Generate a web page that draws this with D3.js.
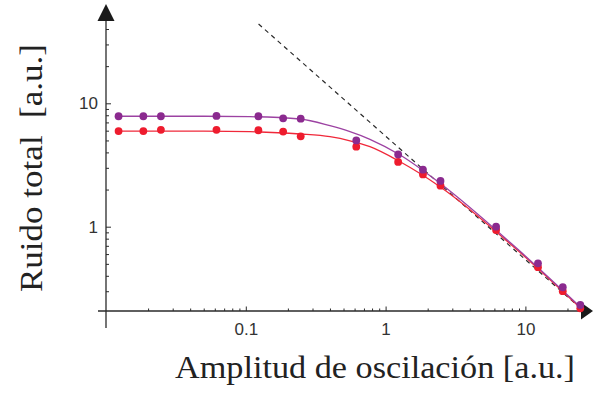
<!DOCTYPE html>
<html>
<head>
<meta charset="utf-8">
<script src="https://cdn.jsdelivr.net/npm/d3@7"></script>
<style>
  html, body { margin: 0; padding: 0; background: #fff; }
  svg { display: block; }
</style>
</head>
<body>
<svg id="chart" width="593" height="394"></svg>
<script>
// ---- data ----
const xValues      = [0.0123, 0.0185, 0.0247, 0.0617, 0.123, 0.185, 0.247, 0.617, 1.23, 1.85, 2.47, 6.17, 12.3, 18.5, 24.7];
const purpleValues = [7.85, 7.85, 7.85, 7.9, 7.85, 7.55, 7.5, 5.0, 3.85, 2.9, 2.35, 1.0, 0.505, 0.323, 0.232];
const redValues    = [5.95, 5.95, 6.1, 6.1, 6.05, 5.9, 5.4, 4.45, 3.35, 2.65, 2.15, 0.94, 0.47, 0.30, 0.218];

const fitX         = [0.0121, 0.05, 0.107, 0.244, 0.40, 0.556, 0.773, 1.27, 2.45, 8.67, 25.3];
const purpleFit    = [7.85, 7.85, 7.79, 7.46, 6.58, 5.89, 5.11, 3.81, 2.25, 0.668, 0.218];
const redFit       = [5.96, 5.95, 5.89, 5.64, 5.36, 4.97, 4.45, 3.36, 2.11, 0.653, 0.214];

const asymptoteX   = [0.1234, 25];
const asymptoteY   = [43.9, 0.2165];

const xTickLabels  = [0.1, 1, 10];
const xMinorTicks  = [0.02,0.03,0.04,0.05,0.06,0.07,0.08,0.09,0.2,0.3,0.4,0.5,0.6,0.7,0.8,0.9,2,3,4,5,6,7,8,9,20];
const yTickLabels  = [1, 10];
const yMinorTicks  = [0.3,0.4,0.5,0.6,0.7,0.8,0.9,2,3,4,5,6,7,8,9,20,30,40];

const xTitle = "Amplitud de oscilación [a.u.]";
const yTitle = "Ruido total\u00a0 [a.u.]";

// ---- layout ----
const svg = d3.select("#chart");
const x = d3.scaleLog().domain([0.1, 10]).range([245.8, 525.4]);
const y = d3.scaleLog().domain([1, 10]).range([226.7, 103.3]);
const x0 = x(0.01), y0 = 311;
const axisColor = "#2a2a2a";
const purple = "#8b2a8f", purpleLine = "#9c42a2";
const red = "#ee1c2e", redLine = "#f0283a";

// axes lines
svg.append("line").attr("x1", 98).attr("x2", 584).attr("y1", y0).attr("y2", y0)
  .attr("stroke", axisColor).attr("stroke-width", 1.3);
svg.append("line").attr("x1", x0).attr("x2", x0).attr("y1", 328).attr("y2", 18)
  .attr("stroke", axisColor).attr("stroke-width", 1.3);
// arrowheads
svg.append("path").attr("d", `M581,302.5 L593,311 L581,319.5 Z`).attr("fill", "#1a1a1a");
svg.append("path").attr("d", `M${x0-8.5},21 L${x0},4 L${x0+8.5},21 Z`).attr("fill", "#1a1a1a");

// x axis ticks
const gx = svg.append("g").attr("transform", `translate(0,${y0})`);
gx.call(d3.axisBottom(x).tickValues(xTickLabels).tickSize(-4.5).tickPadding(12)
  .tickFormat(d => d3.format("~g")(d)));
const gxm = svg.append("g").attr("transform", `translate(0,${y0})`);
gxm.call(d3.axisBottom(x).tickValues(xMinorTicks).tickSize(-2.5).tickFormat(""));
// y axis ticks
const gy = svg.append("g").attr("transform", `translate(${x0},0)`);
gy.call(d3.axisLeft(y).tickValues(yTickLabels).tickSize(-5).tickPadding(8)
  .tickFormat(d => d3.format("~g")(d)));
const gym = svg.append("g").attr("transform", `translate(${x0},0)`);
gym.call(d3.axisLeft(y).tickValues(yMinorTicks).tickSize(-3).tickFormat(""));

svg.selectAll(".domain").remove();
svg.selectAll(".tick line").attr("stroke", axisColor).attr("stroke-width", 1);
svg.selectAll(".tick text").attr("fill", "#333").style("font-family", "'Liberation Sans', Arial, sans-serif")
  .style("font-size", "17px");

// asymptote
svg.append("path")
  .datum(asymptoteX.map((d, i) => [d, asymptoteY[i]]))
  .attr("d", d3.line().x(d => x(d[0])).y(d => y(d[1])))
  .attr("fill", "none").attr("stroke", "#2a2a2a").attr("stroke-width", 1.2)
  .attr("stroke-dasharray", "4.5,4");

// fit curves
const lineGen = d3.line().x(d => x(d[0])).y(d => y(d[1])).curve(d3.curveMonotoneX);
svg.append("path").datum(fitX.map((d, i) => [d, redFit[i]]))
  .attr("d", lineGen).attr("fill", "none").attr("stroke", redLine).attr("stroke-width", 1.3);
svg.append("path").datum(fitX.map((d, i) => [d, purpleFit[i]]))
  .attr("d", lineGen).attr("fill", "none").attr("stroke", purpleLine).attr("stroke-width", 1.3);

// points
svg.append("g").selectAll("circle").data(xValues.map((d, i) => [d, redValues[i]]))
  .join("circle").attr("cx", d => x(d[0])).attr("cy", d => y(d[1])).attr("r", 3.9).attr("fill", red);
svg.append("g").selectAll("circle").data(xValues.map((d, i) => [d, purpleValues[i]]))
  .join("circle").attr("cx", d => x(d[0])).attr("cy", d => y(d[1])).attr("r", 3.9).attr("fill", purple);

// titles
svg.append("text").attr("x", 375).attr("y", 378).attr("text-anchor", "middle")
  .attr("textLength", 400).attr("lengthAdjust", "spacingAndGlyphs")
  .style("font-family", "'Liberation Serif', 'DejaVu Serif', serif").style("font-size", "31px")
  .attr("fill", "#222").text(xTitle);
svg.append("text").attr("transform", "translate(42,168) rotate(-90)").attr("text-anchor", "middle")
  .attr("textLength", 248).attr("lengthAdjust", "spacingAndGlyphs")
  .style("font-family", "'Liberation Serif', 'DejaVu Serif', serif").style("font-size", "31px")
  .attr("fill", "#222").text(yTitle);
</script>
</body>
</html>
